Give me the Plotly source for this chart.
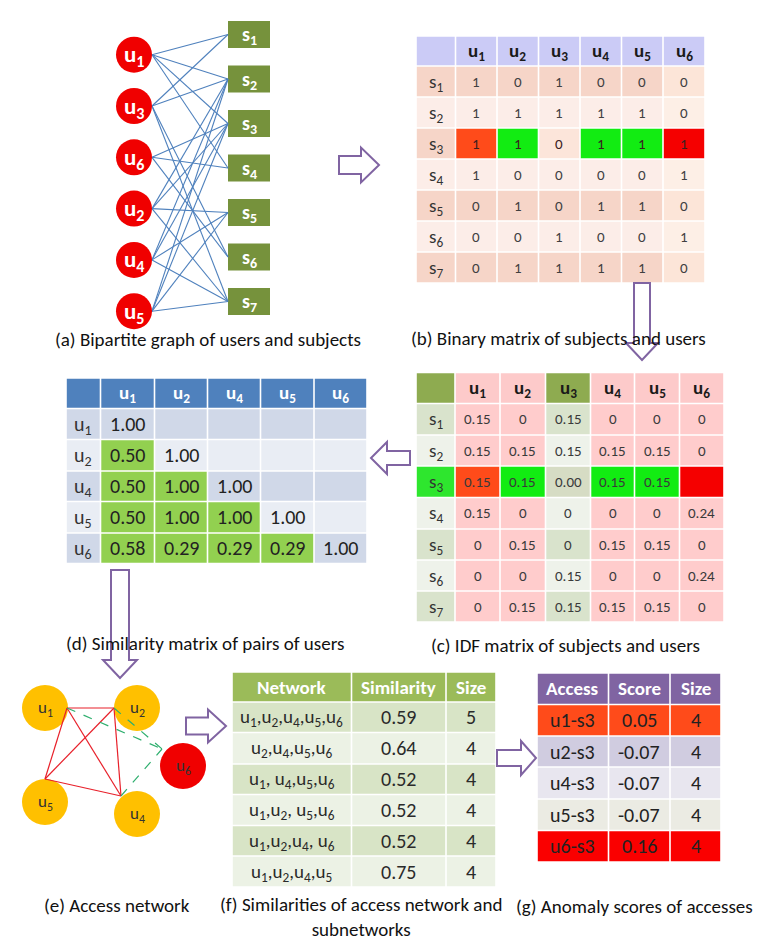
import re
import plotly.graph_objects as go

# ---------------- data ----------------
graph_users = ["u1", "u3", "u6", "u2", "u4", "u5"]          # order in bipartite graph
subjects = ["s1", "s2", "s3", "s4", "s5", "s6", "s7"]
users = ["u1", "u2", "u3", "u4", "u5", "u6"]
binary = [
    [1, 0, 1, 0, 0, 0],
    [1, 1, 1, 1, 1, 0],
    [1, 1, 0, 1, 1, 1],
    [1, 0, 0, 0, 0, 1],
    [0, 1, 0, 1, 1, 0],
    [0, 0, 1, 0, 0, 1],
    [0, 1, 1, 1, 1, 0],
]
idf = [
    ["0.15", "0", "0.15", "0", "0", "0"],
    ["0.15", "0.15", "0.15", "0.15", "0.15", "0"],
    ["0.15", "0.15", "0.00", "0.15", "0.15", ""],
    ["0.15", "0", "0", "0", "0", "0.24"],
    ["0", "0.15", "0", "0.15", "0.15", "0"],
    ["0", "0", "0.15", "0", "0", "0.24"],
    ["0", "0.15", "0.15", "0.15", "0.15", "0"],
]
sim_users = ["u1", "u2", "u4", "u5", "u6"]
sim_lower = [
    [1.00],
    [0.50, 1.00],
    [0.50, 1.00, 1.00],
    [0.50, 1.00, 1.00, 1.00],
    [0.58, 0.29, 0.29, 0.29, 1.00],
]
net_nodes = ["u1", "u2", "u5", "u4", "u6"]
net_edges_solid = [("u1", "u2"), ("u1", "u5"), ("u1", "u4"), ("u2", "u5"), ("u2", "u4"), ("u5", "u4")]
net_edges_dashed = [("u1", "u6"), ("u2", "u6"), ("u4", "u6")]
f_header = ["Network", "Similarity", "Size"]
f_networks = ["u1,u2,u4,u5,u6", "u2,u4,u5,u6", "u1, u4,u5,u6", "u1,u2, u5,u6", "u1,u2,u4, u6", "u1,u2,u4,u5"]
f_similarity = [0.59, 0.64, 0.52, 0.52, 0.52, 0.75]
f_size = [5, 4, 4, 4, 4, 4]
g_header = ["Access", "Score", "Size"]
g_access = ["u1-s3", "u2-s3", "u4-s3", "u5-s3", "u6-s3"]
g_score = [0.05, -0.07, -0.07, -0.07, 0.16]
g_size = [4, 4, 4, 4, 4]
captions = {
    "a": "(a) Bipartite graph of users and subjects",
    "b": "(b) Binary matrix of subjects and users",
    "c": "(c) IDF matrix of subjects and users",
    "d": "(d) Similarity matrix of pairs of users",
    "e": "(e) Access network",
    "f": "(f) Similarities of access network and<br>subnetworks",
    "g": "(g) Anomaly scores of accesses",
}

# ---------------- style ----------------
FONT = "Carlito, Lato, 'Open Sans', sans-serif"
CAP = 19
ORANGE = "#FF4B1A"
GREEN = "#12EC12"
RED = "#F50000"
PURPLE = "#8064A2"
highlight = {"u1": ORANGE, "u2": GREEN, "u4": GREEN, "u5": GREEN, "u6": RED}
anomalous = "s3"

shapes = []
annotations = []


def sub(s):
    return re.sub(r"([us])(\d)", r"\1<sub>\2</sub>", s)


def rect(x0, y0, x1, y1, fill, gap=0.8):
    shapes.append(dict(type="rect", xref="x", yref="y", x0=x0 + gap, x1=x1 - gap,
                       y0=y0 + gap, y1=y1 - gap, fillcolor=fill, line=dict(width=0), layer="below"))


def text(x, y, s, size, color="#111", bold=False):
    annotations.append(dict(x=x, y=y, xref="x", yref="y", text=f"<b>{s}</b>" if bold else s,
                            showarrow=False, font=dict(family=FONT, size=size, color=color),
                            xanchor="center", yanchor="middle"))


def line(x0, y0, x1, y1, color, width=1, dash="solid"):
    shapes.append(dict(type="line", xref="x", yref="y", x0=x0, y0=y0, x1=x1, y1=y1,
                       line=dict(color=color, width=width, dash=dash), layer="above"))


def circle(cx, cy, r, fill):
    shapes.append(dict(type="circle", xref="x", yref="y", x0=cx - r, x1=cx + r, y0=cy - r, y1=cy + r,
                       fillcolor=fill, line=dict(width=0), layer="above"))


def poly(pts):
    path = "M " + " L ".join(f"{x},{y}" for x, y in pts) + " Z"
    shapes.append(dict(type="path", xref="x", yref="y", path=path, fillcolor="rgba(0,0,0,0)",
                       line=dict(color=PURPLE, width=2), layer="above"))


def arrow_h(x0, xb, xt, yc, sh, hh):
    poly([(x0, yc - sh), (xb, yc - sh), (xb, yc - hh), (xt, yc), (xb, yc + hh), (xb, yc + sh), (x0, yc + sh)])


def arrow_v(y0, yb, yt, xc, sh, hh):
    poly([(xc - sh, y0), (xc - sh, yb), (xc - hh, yb), (xc, yt), (xc + hh, yb), (xc + sh, yb), (xc + sh, y0)])


def mid(a, i):
    return (a[i] + a[i + 1]) / 2


# ---------------- (a) bipartite graph ----------------
u_cx, u_r = 126, 18
u_y = {u: 46.7 + 51.3 * i for i, u in enumerate(graph_users)}
s_x0, s_x1 = 220, 262
s_y = {s: 26.5 + 44.5 * i for i, s in enumerate(subjects)}
for si, s in enumerate(subjects):
    for ui, u in enumerate(users):
        if binary[si][ui]:
            line(u_cx + u_r, u_y[u], s_x0, s_y[s], "#4F81BD", 1.1)
for u in graph_users:
    circle(u_cx, u_y[u], u_r, "#F00000")
    text(u_cx, u_y[u] + 1, sub(u), 23, "white", True)
for s in subjects:
    rect(s_x0, s_y[s] - 13.5, s_x1, s_y[s] + 13.5, "#76923C", gap=0)
    text((s_x0 + s_x1) / 2, s_y[s] + 1, sub(s), 20, "white", True)
text(200, 331, captions["a"], CAP)
arrow_h(331, 353, 371, 157, 9, 17.5)

# ---------------- (b) binary matrix ----------------
bx = [408, 447.5, 489, 530.5, 572, 613.5, 655, 697]
by = [28, 58, 89, 120, 151, 182, 213, 244, 275]
for j in range(7):
    rect(bx[j], by[0], bx[j + 1], by[1], "#CBCBF6")
    if j:
        text(mid(bx, j), mid(by, 0) + 1, sub(users[j - 1]), 19, "#1a1a1a", True)
for i, s in enumerate(subjects):
    odd = i % 2 == 0
    rect(bx[0], by[i + 1], bx[1], by[i + 2], "#F6D5C8" if odd else "#FCEDE8")
    text(mid(bx, 0), mid(by, i + 1) + 1, sub(s), 19, "#333")
    for j, u in enumerate(users):
        if s == anomalous:
            fill = highlight.get(u, "#FCE5DA") if binary[i][j] else "#FCE5DA"
        elif j == 5:
            fill = "#FCE5D8" if odd else "#FDEFE6"
        else:
            fill = "#F6D5C8" if odd else "#FCEDE8"
        rect(bx[j + 1], by[i + 1], bx[j + 2], by[i + 2], fill)
        text(mid(bx, j + 1), mid(by, i + 1), str(binary[i][j]), 15,
             "#3a2020" if s == anomalous else "#404040")
text(550, 330, captions["b"], CAP)
arrow_v(275, 335, 352, 634, 8, 16)

# ---------------- (c) IDF matrix ----------------
cx = [408, 447, 492, 537.5, 582.5, 626.5, 671.5, 716]
cy = [364.5, 395.5, 427, 458, 489.5, 521, 552, 583, 614]
for j in range(7):
    olive = j == 0 or (j > 0 and users[j - 1] == "u3")
    rect(cx[j], cy[0], cx[j + 1], cy[1], "#8EAB50" if olive else "#FDCACA")
    if j:
        text(mid(cx, j), mid(cy, 0) + 1, sub(users[j - 1]), 19, "#1a1a1a", True)
for i, s in enumerate(subjects):
    odd = i % 2 == 0
    side = "#D9E3CC" if odd else "#EEF2EA"
    rect(cx[0], cy[i + 1], cx[1], cy[i + 2], "#2EE62E" if s == anomalous else side)
    text(mid(cx, 0), mid(cy, i + 1) + 1, sub(s), 19, "#333")
    for j, u in enumerate(users):
        if s == anomalous:
            fill = highlight.get(u, "#D6DCC4")
        elif u == "u3":
            fill = side
        else:
            fill = "#FFCCCC"
        rect(cx[j + 1], cy[i + 1], cx[j + 2], cy[i + 2], fill)
        text(mid(cx, j + 1), mid(cy, i + 1), idf[i][j], 15, "#3a3a3a")
text(557, 637, captions["c"], CAP)
arrow_h(402, 379, 363, 450, 7, 16)

# ---------------- (d) similarity matrix ----------------
dx = [58, 92.5, 146.5, 199.5, 252.5, 306, 359]
dy = [370, 400.5, 431.5, 463, 493.5, 525, 555.5]
for j in range(6):
    rect(dx[j], dy[0], dx[j + 1], dy[1], "#4F81BD")
    if j:
        text(mid(dx, j), mid(dy, 0) + 1, sub(sim_users[j - 1]), 19, "white", True)
for i, u in enumerate(sim_users):
    row = "#D0D8E8" if i % 2 == 0 else "#E9EDF4"
    rect(dx[0], dy[i + 1], dx[1], dy[i + 2], row)
    text(mid(dx, 0), mid(dy, i + 1) + 1, sub(u), 20, "#333")
    for j in range(len(sim_users)):
        if j < len(sim_lower[i]):
            fill = "#92D050" if j < i else row
            rect(dx[j + 1], dy[i + 1], dx[j + 2], dy[i + 2], fill)
            text(mid(dx, j + 1), mid(dy, i + 1), f"{sim_lower[i][j]:.2f}", 20, "#222")
        else:
            rect(dx[j + 1], dy[i + 1], dx[j + 2], dy[i + 2], row)
text(197, 635, captions["d"], CAP)
arrow_v(562, 652, 670, 112, 9, 17)

# ---------------- (e) access network ----------------
node_center = {"u1": (37, 700), "u2": (129, 700), "u5": (37, 794), "u4": (129, 806), "u6": (175, 758)}
node_anchor = {"u1": (59, 700), "u2": (106, 700), "u5": (37, 771), "u4": (113, 788), "u6": (154, 741)}
for n in net_nodes:
    cxn, cyn = node_center[n]
    circle(cxn, cyn, 23, "#F00000" if n == "u6" else "#FFC000")
for a, b in net_edges_solid:
    line(*node_anchor[a], *node_anchor[b], "#E8202A", 1.2)
for a, b in net_edges_dashed:
    line(*node_anchor[a], *node_anchor[b], "#2EAF6E", 1.2, "dash")
for n in net_nodes:
    cxn, cyn = node_center[n]
    text(cxn, cyn, sub(n), 17, "#333")
text(109, 897, captions["e"], CAP)
arrow_h(178, 200, 218, 718, 8.5, 16.5)

# ---------------- (f) similarities ----------------
fx = [224, 343.5, 438, 488]
fy = [664, 694, 724.5, 756, 786.5, 817.5, 848, 879]
for j, h in enumerate(f_header):
    rect(fx[j], fy[0], fx[j + 1], fy[1], "#9BBB59")
    text(mid(fx, j), mid(fy, 0), h, 19, "white", True)
for i in range(len(f_networks)):
    row = "#D8E4C6" if i % 2 == 0 else "#ECF2E5"
    vals = [sub(f_networks[i]), f"{f_similarity[i]:.2f}", str(f_size[i])]
    for j, v in enumerate(vals):
        rect(fx[j], fy[i + 1], fx[j + 1], fy[i + 2], row)
        text(mid(fx, j), mid(fy, i + 1) + (1 if j == 0 else 0), v, 19 if j == 0 else 20, "#2a2a2a")
text(353, 909, captions["f"], CAP)
arrow_h(489, 513, 528, 750, 8, 17)

# ---------------- (g) anomaly scores ----------------
gx = [529, 600.5, 662, 713]
gy = [665, 696.5, 728, 759, 791, 822.5, 854]
g_rows = {"u1-s3": ORANGE, "u2-s3": "#D0CCE0", "u4-s3": "#E8E6EF", "u5-s3": "#EBEBE3", "u6-s3": "#FA0000"}
for j, h in enumerate(g_header):
    rect(gx[j], gy[0], gx[j + 1], gy[1], PURPLE)
    text(mid(gx, j), mid(gy, 0), h, 19, "white", True)
for i, acc in enumerate(g_access):
    vals = [acc, f"{g_score[i]:.2f}", str(g_size[i])]
    for j, v in enumerate(vals):
        rect(gx[j], gy[i + 1], gx[j + 1], gy[i + 2], g_rows[acc])
        text(mid(gx, j), mid(gy, i + 1), v, 20, "#222")
text(626, 898, captions["g"], CAP)

# ---------------- figure ----------------
fig = go.Figure()
fig.update_layout(
    width=762, height=944,
    margin=dict(l=0, r=0, t=0, b=0),
    paper_bgcolor="white", plot_bgcolor="white",
    xaxis=dict(range=[0, 762], visible=False, fixedrange=True),
    yaxis=dict(range=[944, 0], visible=False, fixedrange=True),
    shapes=shapes, annotations=annotations, showlegend=False,
)
fig.write_html("out.html")
